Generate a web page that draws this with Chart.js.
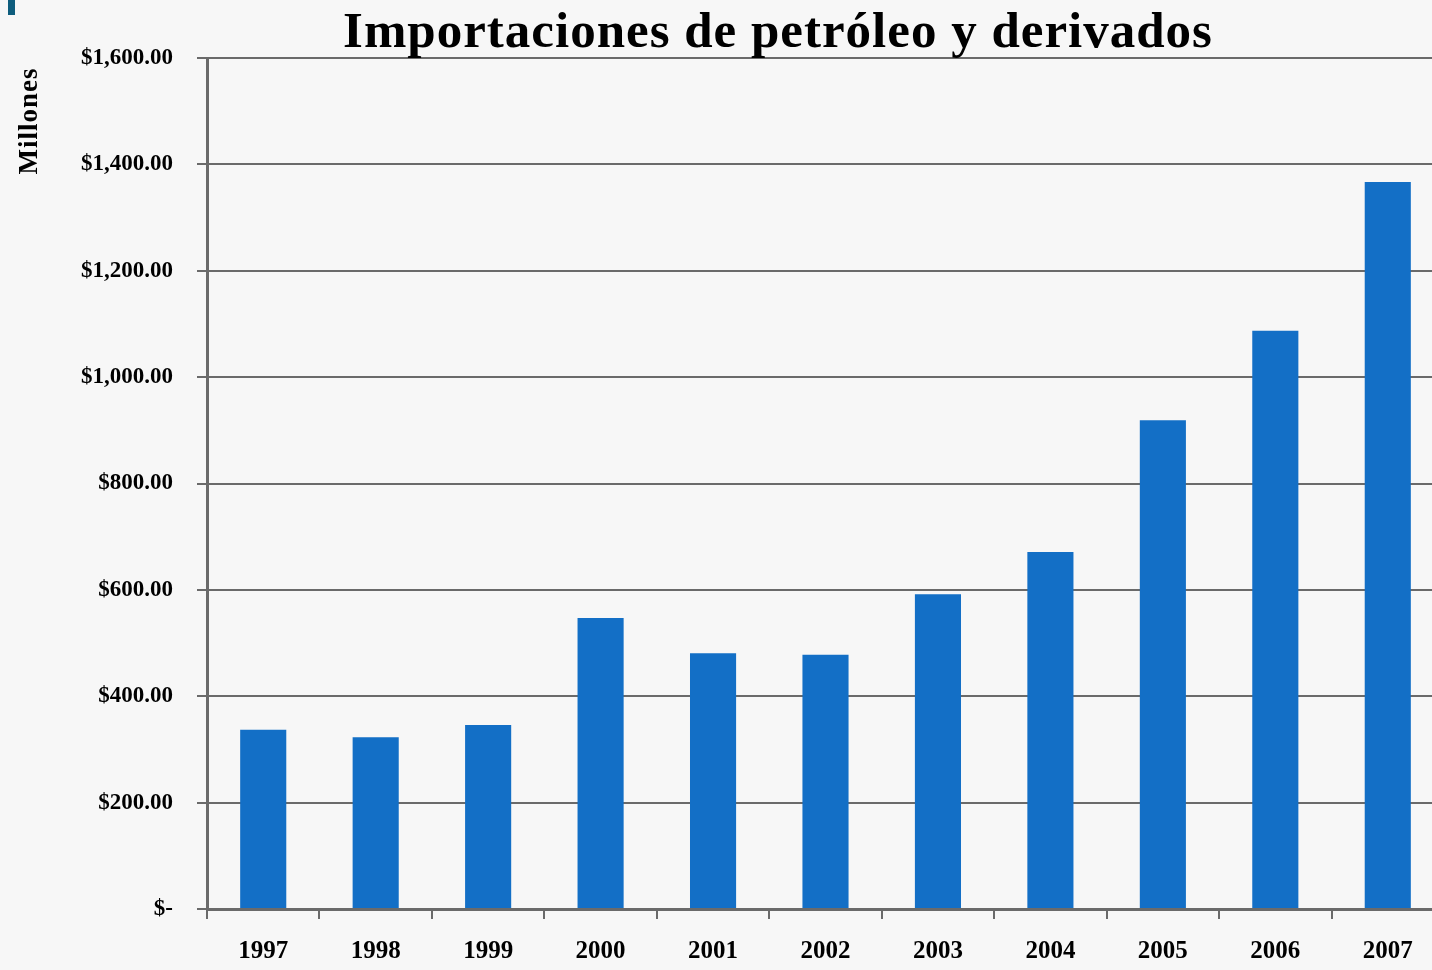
<!DOCTYPE html>
<html>
<head>
<meta charset="utf-8">
<script src="https://cdn.jsdelivr.net/npm/chart.js@4"></script>
<style>
  html, body { margin: 0; padding: 0; overflow: hidden; background: #f7f7f7; }
  #wrap { position: relative; width: 1432px; height: 970px; overflow: hidden; }
  #chart { position: absolute; left: 0; top: 0; }
  #title {
    position: absolute; left: 0; width: 1556px; top: 1px; text-align: center;
    font: bold 51px "Liberation Serif", serif; letter-spacing: 1px; color: #000; white-space: nowrap;
  }
  #ytitle {
    position: absolute; left: 28px; top: 121px;
    transform: translate(-50%, -50%) rotate(-90deg);
    font: bold 27px "Liberation Serif", serif; letter-spacing: 1px; color: #000; white-space: nowrap;
  }
  #mark { position: absolute; left: 8px; top: 0; width: 7px; height: 15px; background: #0e5d7d; }
</style>
</head>
<body>
<div id="wrap">
  <canvas id="chart" width="1450" height="970"></canvas>
  <div id="title">Importaciones de petróleo y derivados</div>
  <div id="ytitle">Millones</div>
  <div id="mark"></div>
</div>
<script>
// importaciones de petroleo - millones de dolares
const years = ['1997', '1998', '1999', '2000', '2001', '2002', '2003', '2004', '2005', '2006', '2007'];
const importaciones = [337, 323, 346, 547, 481, 478, 592, 671, 919, 1087, 1367];
const yMax = 1600;
const yStep = 200;

function fmtMoney(v) {
    if (v === 0) return '$-';
    return '$' + v.toLocaleString('en-US', { minimumFractionDigits: 2, maximumFractionDigits: 2 });
}

const ctx = document.getElementById('chart').getContext('2d');
const lineColor = '#6a6a6a';

new Chart(ctx, {
    type: 'bar',
    data: {
        labels: years,
        datasets: [{
            label: 'Importaciones',
            data: importaciones,
            backgroundColor: '#136fc6',
            categoryPercentage: 1,
            barPercentage: 0.41
        }]
    },
    options: {
        responsive: false,
        animation: false,
        layout: { padding: { top: 58, right: 6, left: 0, bottom: 0 } },
        plugins: {
            legend: { display: false },
            title: { display: false },
            tooltip: { enabled: false }
        },
        scales: {
            x: {
                offset: true,
                grid: {
                    offset: true,
                    drawOnChartArea: false,
                    drawTicks: true,
                    tickLength: 10,
                    color: lineColor,
                    lineWidth: 2
                },
                border: { color: lineColor, width: 3 },
                ticks: {
                    color: '#000',
                    padding: 18,
                    font: { family: '"Liberation Serif", serif', size: 25, weight: 'bold' }
                },
                afterFit: s => { s.height = 970 - 909; }
            },
            y: {
                min: 0,
                max: yMax,
                grid: {
                    color: lineColor,
                    lineWidth: 2,
                    drawTicks: true,
                    tickLength: 10
                },
                border: { color: lineColor, width: 3 },
                ticks: {
                    stepSize: yStep,
                    color: '#000',
                    padding: 24,
                    font: { family: '"Liberation Serif", serif', size: 23, weight: 'bold' },
                    callback: v => fmtMoney(v)
                },
                afterFit: s => { s.width = 207; }
            }
        }
    }
});
</script>
</body>
</html>
